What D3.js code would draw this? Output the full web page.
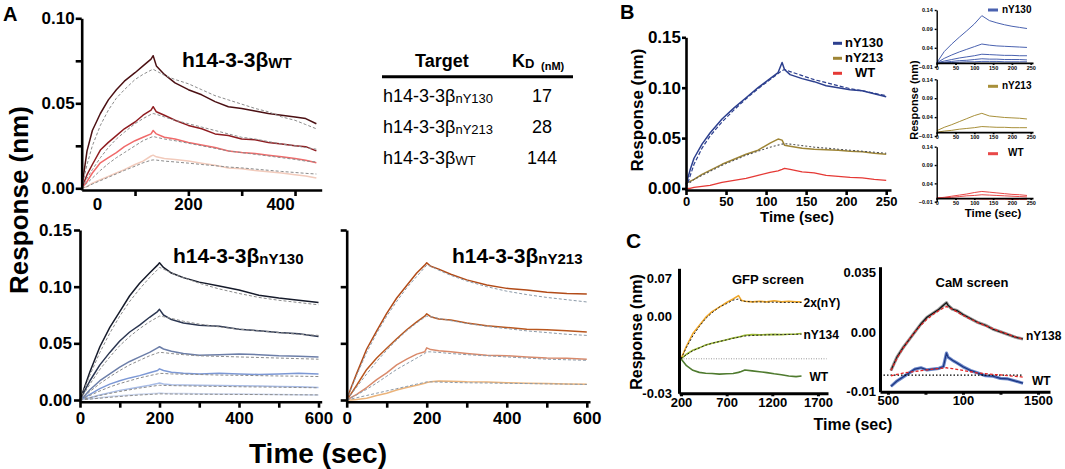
<!DOCTYPE html>
<html>
<head>
<meta charset="utf-8">
<script src="https://cdn.jsdelivr.net/npm/d3@7"></script>
<style>
  body { margin: 0; background: #fff; }
  svg { display: block; }
</style>
</head>
<body>
<script>
'use strict';

const FONT = "'Liberation Sans', Arial, Helvetica, sans-serif";

// ---------- panel A : h14-3-3b WT ----------
const tWT = [0, 10, 20, 35, 50, 65, 80, 100, 115, 130, 134, 140, 155, 175, 200, 225, 250, 275, 300, 325, 350, 375, 400, 420, 440];
const wt1 = [0, 0.022, 0.034, 0.044, 0.052, 0.058, 0.063, 0.068, 0.072, 0.076, 0.078, 0.072, 0.067, 0.062, 0.058, 0.055, 0.051, 0.048, 0.047, 0.0455, 0.044, 0.043, 0.042, 0.041, 0.038];
const wt2 = [0, 0.008, 0.014, 0.0225, 0.027, 0.031, 0.035, 0.039, 0.043, 0.046, 0.048, 0.045, 0.043, 0.040, 0.037, 0.035, 0.032, 0.031, 0.029, 0.0285, 0.027, 0.026, 0.025, 0.0245, 0.022];
const wt3 = [0, 0.004, 0.009, 0.015, 0.018, 0.021, 0.0245, 0.028, 0.030, 0.032, 0.034, 0.032, 0.030, 0.029, 0.027, 0.0255, 0.024, 0.022, 0.021, 0.0205, 0.0195, 0.0185, 0.0175, 0.0165, 0.015];
const wt4 = [0, 0.001, 0.003, 0.005, 0.007, 0.009, 0.011, 0.014, 0.016, 0.019, 0.0195, 0.0185, 0.0175, 0.017, 0.016, 0.0148, 0.0135, 0.012, 0.0115, 0.0105, 0.0098, 0.009, 0.008, 0.0072, 0.006];
const wtFit1 = [0, 0.014, 0.025, 0.037, 0.046, 0.053, 0.058, 0.064, 0.067, 0.0695, 0.070, 0.069, 0.0665, 0.064, 0.0615, 0.058, 0.0545, 0.052, 0.0495, 0.047, 0.045, 0.042, 0.040, 0.0375, 0.035];
const wtFit2 = [0, 0.006, 0.011, 0.018, 0.024, 0.029, 0.033, 0.038, 0.041, 0.0435, 0.044, 0.0435, 0.042, 0.040, 0.038, 0.036, 0.034, 0.032, 0.030, 0.029, 0.0275, 0.026, 0.025, 0.024, 0.023];
const wtFit3 = [0, 0.003, 0.006, 0.0105, 0.0145, 0.018, 0.021, 0.025, 0.028, 0.030, 0.0305, 0.030, 0.029, 0.028, 0.0265, 0.025, 0.0235, 0.022, 0.021, 0.020, 0.019, 0.018, 0.017, 0.016, 0.0155];
const wtFit4 = [0, 0.001, 0.0025, 0.0045, 0.0065, 0.0085, 0.0105, 0.013, 0.015, 0.0165, 0.0167, 0.0166, 0.016, 0.0155, 0.0148, 0.014, 0.0133, 0.0125, 0.012, 0.0113, 0.0106, 0.0099, 0.0093, 0.0088, 0.0084];
const wtColors = ["#4b1013", "#8f1c20", "#f06a6a", "#f2cbbc"];
const wtXTicks = [100, 200, 300, 400];
// the printed x labels of this panel sit off their ticks
const wtXLabelAt = [28.7, 199.4, 372];
const wtXLabels = ["0", "200", "400"];
const wtYTicks = [0, 0.025, 0.05, 0.075, 0.10];
const wtYLabels = ["0.00", "", "0.05", "", "0.10"];

// ---------- panel A : nY130 / nY213 ----------
const tNY = [0, 10, 25, 50, 75, 100, 125, 150, 175, 195, 200, 210, 230, 260, 300, 350, 400, 450, 500, 550, 600];
const ny130_1 = [0, 0.010, 0.025, 0.047, 0.064, 0.078, 0.092, 0.103, 0.112, 0.119, 0.121, 0.117, 0.112, 0.108, 0.104, 0.1005, 0.097, 0.0925, 0.090, 0.088, 0.086];
const ny130_2 = [0, 0.007, 0.017, 0.031, 0.042, 0.052, 0.060, 0.066, 0.073, 0.078, 0.080, 0.075, 0.071, 0.068, 0.066, 0.065, 0.0625, 0.061, 0.0595, 0.0585, 0.056];
const ny130_3 = [0, 0.003, 0.009, 0.017, 0.023, 0.029, 0.034, 0.038, 0.042, 0.046, 0.047, 0.045, 0.043, 0.041, 0.0395, 0.040, 0.0405, 0.040, 0.039, 0.0385, 0.038];
const ny130_4 = [0, 0.002, 0.005, 0.010, 0.014, 0.017, 0.0195, 0.0215, 0.024, 0.026, 0.0275, 0.026, 0.0245, 0.0235, 0.023, 0.0235, 0.023, 0.0225, 0.023, 0.0235, 0.023];
const ny130_5 = [0, 0.001, 0.002, 0.0045, 0.0065, 0.0085, 0.010, 0.0115, 0.013, 0.0145, 0.015, 0.0142, 0.0135, 0.0132, 0.013, 0.0128, 0.0125, 0.0123, 0.012, 0.0118, 0.011];
const ny130_6 = [0, 0.0004, 0.001, 0.002, 0.003, 0.0038, 0.0045, 0.005, 0.0056, 0.006, 0.0062, 0.006, 0.0058, 0.0057, 0.0055, 0.0053, 0.0052, 0.005, 0.0048, 0.0046, 0.0044];
const ny130Fit1 = [0, 0.009, 0.022, 0.042, 0.059, 0.074, 0.087, 0.098, 0.108, 0.115, 0.117, 0.1155, 0.112, 0.108, 0.103, 0.098, 0.094, 0.0905, 0.088, 0.086, 0.084];
const ny130Fit2 = [0, 0.0055, 0.014, 0.027, 0.038, 0.048, 0.056, 0.063, 0.069, 0.073, 0.074, 0.0735, 0.072, 0.0695, 0.067, 0.0645, 0.0625, 0.061, 0.0595, 0.058, 0.057];
const ny130Fit3 = [0, 0.0025, 0.0075, 0.0145, 0.0205, 0.026, 0.031, 0.035, 0.039, 0.0415, 0.042, 0.0418, 0.041, 0.040, 0.039, 0.0385, 0.038, 0.0375, 0.037, 0.0365, 0.036];
const ny130Fit4 = [0, 0.0015, 0.004, 0.008, 0.0115, 0.0145, 0.017, 0.0195, 0.0215, 0.023, 0.0235, 0.0234, 0.023, 0.0228, 0.0225, 0.022, 0.0218, 0.0215, 0.0212, 0.021, 0.0207];
const ny130Fit5 = [0, 0.0008, 0.002, 0.004, 0.0058, 0.0075, 0.009, 0.0105, 0.0118, 0.0128, 0.013, 0.0129, 0.0127, 0.0125, 0.0122, 0.012, 0.0117, 0.0115, 0.0113, 0.011, 0.0108];
const ny130Fit6 = [0, 0.0003, 0.0008, 0.0016, 0.0024, 0.0031, 0.0038, 0.0044, 0.0049, 0.0053, 0.0054, 0.0054, 0.0053, 0.0052, 0.0051, 0.005, 0.0049, 0.0048, 0.0047, 0.0046, 0.0045];
const ny130Colors = ["#161b2b", "#2b3651", "#6c7ea8", "#7c98d5", "#a8bce6", "#cdd8ef"];

const ny213_1 = [0, 0.010, 0.0235, 0.045, 0.061, 0.0765, 0.090, 0.101, 0.112, 0.119, 0.121, 0.118, 0.1155, 0.111, 0.106, 0.1015, 0.0985, 0.097, 0.095, 0.094, 0.0935];
const ny213_2 = [0, 0.005, 0.013, 0.027, 0.037, 0.0456, 0.054, 0.062, 0.069, 0.074, 0.076, 0.0735, 0.0715, 0.0705, 0.068, 0.0655, 0.064, 0.0625, 0.062, 0.061, 0.060];
const ny213_3 = [0, 0.002, 0.005, 0.011, 0.018, 0.024, 0.031, 0.036, 0.0405, 0.0425, 0.046, 0.0445, 0.0435, 0.0425, 0.041, 0.0395, 0.039, 0.038, 0.037, 0.0368, 0.036];
const ny213_4 = [0, 0, 0.0005, 0.0015, 0.004, 0.006, 0.0088, 0.011, 0.013, 0.0148, 0.0155, 0.016, 0.0168, 0.0165, 0.016, 0.0158, 0.0152, 0.0148, 0.0145, 0.0142, 0.014];
const ny213Fit1 = [0, 0.009, 0.022, 0.042, 0.059, 0.074, 0.087, 0.099, 0.109, 0.117, 0.119, 0.118, 0.1145, 0.110, 0.105, 0.100, 0.096, 0.093, 0.0905, 0.0885, 0.0865];
const ny213Fit2 = [0, 0.0045, 0.0115, 0.023, 0.034, 0.044, 0.053, 0.061, 0.068, 0.073, 0.074, 0.0735, 0.072, 0.070, 0.0675, 0.065, 0.063, 0.061, 0.0595, 0.058, 0.057];
const ny213Fit3 = [0, 0.0018, 0.0045, 0.0095, 0.015, 0.021, 0.027, 0.032, 0.037, 0.041, 0.0425, 0.0425, 0.042, 0.041, 0.040, 0.039, 0.038, 0.037, 0.036, 0.0355, 0.035];
const ny213Fit4 = [0, 0.0008, 0.002, 0.004, 0.006, 0.008, 0.010, 0.012, 0.014, 0.0155, 0.016, 0.016, 0.0158, 0.0155, 0.0152, 0.015, 0.0147, 0.0145, 0.0142, 0.014, 0.0137];
const ny213Colors = ["#b24b18", "#b9571f", "#d98a6b", "#ebb37a"];
const nyXTicks = [0, 100, 200, 300, 400, 500, 600];
const nyXLabels = ["0", "", "200", "", "400", "", "600"];
const nyYTicks = [0, 0.05, 0.10, 0.15];
const nyYLabels = ["0.00", "0.05", "0.10", "0.15"];

// ---------- table ----------
const tableTargets = ["nY130", "nY213", "WT"];
const tableKD = ["17", "28", "144"];

// ---------- panel B ----------
const tB = [0, 5, 10, 20, 30, 45, 60, 75, 90, 105, 115, 120, 123, 130, 145, 160, 175, 190, 205, 220, 235, 250];
const bNY130 = [0.004, 0.018, 0.030, 0.044, 0.055, 0.069, 0.080, 0.090, 0.100, 0.109, 0.115, 0.125, 0.118, 0.113, 0.109, 0.106, 0.102, 0.100, 0.098, 0.097, 0.094, 0.091];
const bNY213 = [0.005, 0.007, 0.009, 0.014, 0.018, 0.024, 0.029, 0.034, 0.038, 0.045, 0.049, 0.048, 0.043, 0.042, 0.040, 0.039, 0.0385, 0.038, 0.037, 0.0365, 0.035, 0.034];
const bWT = [0, 0, 0.001, 0.002, 0.003, 0.006, 0.008, 0.010, 0.013, 0.016, 0.0175, 0.019, 0.020, 0.019, 0.0165, 0.0155, 0.013, 0.012, 0.011, 0.0105, 0.009, 0.008];
const bNY130Fit = [0, 0.012, 0.024, 0.040, 0.052, 0.066, 0.078, 0.089, 0.099, 0.108, 0.114, 0.117, 0.118, 0.116, 0.112, 0.108, 0.105, 0.102, 0.099, 0.097, 0.0945, 0.092];
const bNY213Fit = [0.004, 0.006, 0.009, 0.013, 0.017, 0.023, 0.028, 0.033, 0.037, 0.041, 0.043, 0.044, 0.0445, 0.044, 0.0425, 0.041, 0.040, 0.039, 0.038, 0.037, 0.036, 0.035];
const bNames = ["nY130", "nY213", "WT"];
const bColors = ["#2c3f8e", "#9e8535", "#e53935"];
const bXTicks = [0, 50, 100, 150, 200, 250];
const bYTicks = [0, 0.05, 0.10, 0.15];
const bYLabels = ["0.00", "0.05", "0.10", "0.15"];

// panel B insets
const tIn = [0, 20, 40, 60, 80, 100, 120, 140, 160, 180, 200, 220, 240];
const inNY130 = [
  [0, 0.030, 0.050, 0.068, 0.085, 0.103, 0.125, 0.112, 0.106, 0.101, 0.097, 0.094, 0.091],
  [0, 0.012, 0.021, 0.029, 0.036, 0.043, 0.050, 0.047, 0.045, 0.044, 0.043, 0.042, 0.041],
  [0, 0.005, 0.009, 0.013, 0.016, 0.019, 0.023, 0.022, 0.021, 0.020, 0.020, 0.019, 0.019],
  [0, 0.002, 0.004, 0.006, 0.007, 0.009, 0.011, 0.010, 0.010, 0.009, 0.009, 0.009, 0.008],
  [0, 0.001, 0.001, 0.002, 0.003, 0.003, 0.004, 0.004, 0.004, 0.003, 0.003, 0.003, 0.003]
];
const inNY213 = [
  [0.004, 0.013, 0.020, 0.028, 0.036, 0.044, 0.050, 0.043, 0.041, 0.039, 0.038, 0.037, 0.035],
  [0, 0.003, 0.005, 0.008, 0.010, 0.012, 0.015, 0.014, 0.013, 0.013, 0.012, 0.012, 0.012]
];
const inWT = [
  [0, 0.002, 0.005, 0.008, 0.011, 0.015, 0.018, 0.016, 0.014, 0.012, 0.010, 0.009, 0.007],
  [0, 0.001, 0.002, 0.004, 0.006, 0.007, 0.009, 0.008, 0.007, 0.006, 0.005, 0.004, 0.003],
  [0, -0.001, -0.001, -0.002, -0.002, -0.002, -0.003, -0.003, -0.003, -0.003, -0.004, -0.004, -0.004]
];
const inColors = ["#4a62b0", "#a8903a", "#e84848"];
const inXTicks = [0, 50, 100, 150, 200, 250];
const inYTicks = [-0.01, 0.04, 0.09, 0.14];

// ---------- panel C : GFP screen ----------
const tGFP = [200, 260, 330, 400, 470, 540, 620, 700, 770, 830, 860, 900, 980, 1060, 1140, 1220, 1300, 1380, 1460, 1520];
const gfp2x = [0, 0.011, 0.022, 0.029, 0.036, 0.041, 0.045, 0.049, 0.052, 0.055, 0.051, 0.050, 0.0495, 0.050, 0.0495, 0.0505, 0.0495, 0.050, 0.0495, 0.0495];
const gfpNY134 = [0, 0.004, 0.0075, 0.0095, 0.012, 0.0135, 0.015, 0.0165, 0.018, 0.019, 0.0195, 0.0205, 0.021, 0.0208, 0.021, 0.0212, 0.021, 0.0213, 0.0215, 0.022];
const gfpWT = [0, -0.006, -0.010, -0.0118, -0.0125, -0.0128, -0.0133, -0.013, -0.0128, -0.0118, -0.011, -0.0098, -0.0105, -0.0113, -0.012, -0.013, -0.0138, -0.015, -0.0155, -0.015];
const gfp2xFit = [0, 0.010, 0.020, 0.028, 0.035, 0.040, 0.045, 0.048, 0.051, 0.052, 0.0505, 0.050, 0.0495, 0.0495, 0.0493, 0.0492, 0.0491, 0.049, 0.049, 0.049];
const gfpNY134Fit = [0, 0.0035, 0.007, 0.0095, 0.0118, 0.0135, 0.015, 0.0165, 0.0178, 0.0188, 0.0193, 0.0198, 0.0203, 0.0206, 0.0208, 0.021, 0.0211, 0.0212, 0.0213, 0.0214];
const gfpNames = ["2x(nY)", "nY134", "WT"];
const gfpColors = ["#efa72a", "#9cb934", "#4f7b2f"];
const gfpXTicks = [200, 700, 1200, 1700];
// printed y labels of this panel are not on a linear scale
const gfpYLabelAt = [0.07, 0.0366, -0.03];
const gfpYLabels = ["0.07", "0.00", "-0.03"];

// ---------- panel C : CaM screen ----------
const tCaM = [520, 560, 600, 640, 680, 720, 760, 800, 840, 870, 890, 900, 930, 960, 1000, 1050, 1100, 1150, 1200, 1250, 1300, 1350, 1400];
const camNY138 = [-0.002, 0.003, 0.0065, 0.0095, 0.0125, 0.0155, 0.018, 0.0195, 0.021, 0.0225, 0.0235, 0.0225, 0.021, 0.0205, 0.019, 0.0175, 0.016, 0.015, 0.0135, 0.0125, 0.0115, 0.0105, 0.0098];
const camWT = [-0.008, -0.006, -0.0045, -0.003, -0.0015, -0.001, -0.0018, -0.0015, -0.0012, -0.0005, 0.0045, 0.003, 0.0018, 0.0008, -0.0006, -0.002, -0.003, -0.004, -0.0042, -0.005, -0.0052, -0.006, -0.0068];
const camNY138Fit = [-0.002, 0.0025, 0.0063, 0.0095, 0.0125, 0.015, 0.0172, 0.019, 0.0205, 0.0215, 0.022, 0.0218, 0.021, 0.020, 0.0187, 0.0173, 0.016, 0.0148, 0.0137, 0.0126, 0.0116, 0.0106, 0.0098];
const camWTFit = [-0.004, -0.0035, -0.003, -0.0027, -0.0024, -0.0021, -0.0018, -0.0015, -0.0013, -0.0011, -0.001, -0.0011, -0.0013, -0.0016, -0.002, -0.0025, -0.003, -0.0032, -0.0035, -0.0037, -0.004, -0.0042, -0.0045];
const camBaseline = -0.00375;
const camXTicks = [500, 750, 1000, 1250, 1500];
const camXLabels = ["500", "", "100", "", "1500"];
const camYLabelAt = [0.035, 0.0125, -0.01];
const camYLabels = ["0.035", "0.00", "-0.01"];

// ---------- helpers ----------
const svg = d3.select("body").append("svg")
    .attr("width", 1065)
    .attr("height", 469);

function drawLine(g, x, y, ts, vs, color, width, dash) {
    g.append("path")
        .datum(vs)
        .attr("fill", "none")
        .attr("stroke", color)
        .attr("stroke-width", width)
        .attr("stroke-linejoin", "round")
        .attr("stroke-dasharray", dash || null)
        .attr("d", d3.line()
            .x((d, i) => x(ts[i]))
            .y(d => y(d)));
}

function styleAxis(g, fs, lw) {
    g.select(".domain").attr("stroke-width", lw);
    g.selectAll(".tick line").attr("stroke-width", lw);
    g.selectAll(".tick text")
        .attr("font-family", FONT)
        .attr("font-weight", "bold")
        .attr("font-size", fs)
        .attr("fill", "#000");
}

function label(g, x, y, str, fs, opts) {
    opts = opts || {};
    const t = g.append("text")
        .attr("x", x).attr("y", y)
        .attr("font-family", FONT)
        .attr("font-weight", opts.weight || "bold")
        .attr("font-size", fs)
        .attr("text-anchor", opts.anchor || "start")
        .text(str);
    if (opts.rotate) t.attr("transform", `rotate(-90, ${x}, ${y})`);
    if (opts.middle) t.attr("dominant-baseline", "middle");
    return t;
}

function subLabel(g, x, y, main, sub, fs, subFs, weight) {
    const t = g.append("text")
        .attr("x", x).attr("y", y)
        .attr("font-family", FONT)
        .attr("font-weight", weight || "bold")
        .attr("font-size", fs);
    t.append("tspan").text(main);
    t.append("tspan").attr("font-size", subFs).attr("dy", 1).text(sub);
    return t;
}

// ================= PANEL A =================
const gA = svg.append("g");
label(gA, 3, 21, "A", 20);

// --- WT ---
const xWT = d3.scaleLinear().domain([0, 450]).range([81.7, 321.7]);
const yWT = d3.scaleLinear().domain([-0.001, 0.10]).range([190, 18.3]);
[wt4, wt3, wt2, wt1].forEach((s, i) => drawLine(gA, xWT, yWT, tWT, s, wtColors[3 - i], 1.5));
[wtFit1, wtFit2, wtFit3, wtFit4].forEach(s => drawLine(gA, xWT, yWT, tWT, s, "#8c8c8c", 1, "3,2"));

const axWTy = gA.append("g").attr("transform", "translate(81.7,0)")
    .call(d3.axisLeft(yWT).tickValues(wtYTicks).tickFormat((d, i) => wtYLabels[i]).tickSize(6).tickSizeOuter(0).tickPadding(1));
styleAxis(axWTy, 17, 2.6);
const axWTx = gA.append("g").attr("transform", "translate(0,190)")
    .call(d3.axisBottom(xWT).tickValues(wtXTicks).tickFormat("").tickSize(6).tickSizeOuter(0));
styleAxis(axWTx, 17, 2.6);
const axWTlab = gA.append("g").attr("transform", "translate(0,190)")
    .call(d3.axisBottom(xWT).tickValues(wtXLabelAt).tickFormat((d, i) => wtXLabels[i]).tickSize(0).tickPadding(8));
axWTlab.select(".domain").remove();
styleAxis(axWTlab, 17, 0);
subLabel(gA, 182, 67, "h14-3-3β", "WT", 21, 15);

// --- nY130 ---
const xN1 = d3.scaleLinear().domain([0, 608]).range([80, 321.7]);
const yN = d3.scaleLinear().domain([-0.0015, 0.15]).range([401.7, 230]);
[ny130_6, ny130_5, ny130_4, ny130_3, ny130_2, ny130_1].forEach((s, i) =>
    drawLine(gA, xN1, yN, tNY, s, ny130Colors[5 - i], 1.5));
[ny130Fit1, ny130Fit2, ny130Fit3, ny130Fit4, ny130Fit5, ny130Fit6].forEach(s =>
    drawLine(gA, xN1, yN, tNY, s, "#8c8c8c", 1, "3,2"));
const axN1y = gA.append("g").attr("transform", "translate(80,0)")
    .call(d3.axisLeft(yN).tickValues(nyYTicks).tickFormat((d, i) => nyYLabels[i]).tickSize(6).tickSizeOuter(0).tickPadding(2));
styleAxis(axN1y, 17, 2.6);
const axN1x = gA.append("g").attr("transform", "translate(0,401.7)")
    .call(d3.axisBottom(xN1).tickValues(nyXTicks).tickFormat((d, i) => nyXLabels[i]).tickSize(6).tickSizeOuter(0).tickPadding(4));
styleAxis(axN1x, 17, 2.6);
subLabel(gA, 173, 263, "h14-3-3β", "nY130", 21, 15);

// --- nY213 ---
const xN2 = d3.scaleLinear().domain([0, 608]).range([346.7, 590]);
[ny213_4, ny213_3, ny213_2, ny213_1].forEach((s, i) =>
    drawLine(gA, xN2, yN, tNY, s, ny213Colors[3 - i], 1.5));
[ny213Fit1, ny213Fit2, ny213Fit3, ny213Fit4].forEach(s =>
    drawLine(gA, xN2, yN, tNY, s, "#8c9aa8", 1, "3,2"));
const axN2y = gA.append("g").attr("transform", "translate(346.7,0)")
    .call(d3.axisLeft(yN).tickValues(nyYTicks).tickFormat("").tickSize(6).tickSizeOuter(0));
styleAxis(axN2y, 17, 2.6);
const axN2x = gA.append("g").attr("transform", "translate(0,401.7)")
    .call(d3.axisBottom(xN2).tickValues(nyXTicks).tickFormat((d, i) => nyXLabels[i]).tickSize(6).tickSizeOuter(0).tickPadding(4));
styleAxis(axN2x, 17, 2.6);
subLabel(gA, 452, 263, "h14-3-3β", "nY213", 21, 15);

label(gA, 28, 200, "Response (nm)", 26, { anchor: "middle", rotate: true });
label(gA, 318, 463, "Time (sec)", 28, { anchor: "middle" });

// --- table ---
label(gA, 415, 67, "Target", 18);
subLabel(gA, 512, 67, "K", "D", 18, 13);
label(gA, 541, 70, "(nM)", 11);
gA.append("line").attr("x1", 382).attr("x2", 573).attr("y1", 76.7).attr("y2", 76.7)
    .attr("stroke", "#000").attr("stroke-width", 3);
tableTargets.forEach((tg, i) => {
    const yy = 102 + i * 31;
    subLabel(gA, 383, yy, "h14-3-3β", tg, 18, 13, "normal");
    label(gA, 542, yy, tableKD[i], 18, { weight: "normal", anchor: "middle" });
});

// ================= PANEL B =================
const gB = svg.append("g");
label(gB, 620, 19, "B", 20);
const xB = d3.scaleLinear().domain([0, 256]).range([686, 891]);
const yB = d3.scaleLinear().domain([-0.0015, 0.15]).range([190, 37.3]);
drawLine(gB, xB, yB, tB, bWT, bColors[2], 1.3);
drawLine(gB, xB, yB, tB, bNY213, bColors[1], 1.5);
drawLine(gB, xB, yB, tB, bNY130, bColors[0], 1.5);
drawLine(gB, xB, yB, tB, bNY130Fit, "#2c3f8e", 1.2, "4,2");
drawLine(gB, xB, yB, tB, bNY213Fit, "#555", 1.1, "2,2");
const axBy = gB.append("g").attr("transform", "translate(686,0)")
    .call(d3.axisLeft(yB).tickValues(bYTicks).tickFormat((d, i) => bYLabels[i]).tickSize(4).tickSizeOuter(0).tickPadding(1));
styleAxis(axBy, 17, 2.6);
const axBx = gB.append("g").attr("transform", "translate(0,190)")
    .call(d3.axisBottom(xB).tickValues(bXTicks).tickSize(5).tickSizeOuter(0).tickPadding(2));
styleAxis(axBx, 13, 2.6);
label(gB, 643, 110, "Response (nm)", 17, { anchor: "middle", rotate: true });
label(gB, 797, 222, "Time (sec)", 15, { anchor: "middle" });
bNames.forEach((n, i) => {
    const yy = 43.3 + i * 15;
    gB.append("rect").attr("x", 833).attr("y", yy - 1.5).attr("width", 9).attr("height", 3).attr("fill", bColors[i]);
    label(gB, i === 2 ? 855 : 845, yy, n, 13, { middle: true });
});

// insets
const xIn = d3.scaleLinear().domain([0, 256]).range([936.7, 1033]);
const insetRanges = [[66.7, 10], [136, 79.3], [201.7, 146.7]];
const insetSets = [inNY130, inNY213, inWT];
const insetNames = ["nY130", "nY213", "WT"];
insetSets.forEach((set, k) => {
    const yIn = d3.scaleLinear().domain([-0.01, 0.14]).range(insetRanges[k]);
    set.forEach(s => drawLine(gB, xIn, yIn, tIn, s, inColors[k], 1));
    const ay = gB.append("g").attr("transform", "translate(936.7,0)")
        .call(d3.axisLeft(yIn).tickValues(inYTicks).tickSize(2).tickSizeOuter(0).tickPadding(2).tickFormat(d3.format(".2f")));
    styleAxis(ay, 5.5, 1.4);
    const ax = gB.append("g").attr("transform", `translate(0,${yIn(0)})`)
        .call(d3.axisBottom(xIn).tickValues(inXTicks).tickSize(2).tickSizeOuter(0).tickPadding(2));
    styleAxis(ax, 5.5, 1.8);
    ax.selectAll(".tick text").attr("y", yIn(-0.01) - yIn(0) - 1);
    const ly = insetRanges[k][1] + (k === 0 ? 0 : 7);
    gB.append("rect").attr("x", 988).attr("y", ly - 1.5).attr("width", 10).attr("height", 3).attr("fill", inColors[k]);
    label(gB, k === 2 ? 1008 : 1002, ly, insetNames[k], 10, { middle: true });
});
label(gB, 918, 100, "Response (nm)", 11, { anchor: "middle", rotate: true });
label(gB, 993, 217, "Time (sec)", 11.5, { anchor: "middle" });

// ================= PANEL C =================
const gC = svg.append("g");
label(gC, 626, 248, "C", 21);

// GFP screen
const xG = d3.scaleLinear().domain([178, 1810]).range([679, 828]);
const yG = d3.scaleLinear().domain([-0.03, 0.0787]).range([393.3, 268.3]);
gC.append("line").attr("x1", xG(200)).attr("x2", xG(1795)).attr("y1", yG(0)).attr("y2", yG(0))
    .attr("stroke", "#999").attr("stroke-width", 1).attr("stroke-dasharray", "1,1.5");
[gfp2x, gfpNY134, gfpWT].forEach((s, i) => drawLine(gC, xG, yG, tGFP, s, gfpColors[i], 1.6));
drawLine(gC, xG, yG, tGFP, gfp2xFit, "#222", 1, "2,2");
drawLine(gC, xG, yG, tGFP, gfpNY134Fit, "#222", 1, "2,2");
const axGy = gC.append("g").attr("transform", "translate(679,0)")
    .call(d3.axisLeft(yG).tickValues(gfpYLabelAt).tickFormat((d, i) => gfpYLabels[i]).tickSize(0).tickSizeOuter(0).tickPadding(7));
styleAxis(axGy, 13, 3);
const axGx = gC.append("g").attr("transform", "translate(0,393.3)")
    .call(d3.axisBottom(xG).tickValues(gfpXTicks).tickFormat(d3.format("d")).tickSize(3).tickSizeOuter(0).tickPadding(1));
styleAxis(axGx, 13, 3);
label(gC, 768, 284, "GFP screen", 13, { anchor: "middle" });
[gfp2x, gfpNY134, gfpWT].forEach((s, i) => {
    const last = tGFP.length - 1;
    label(gC, xG(tGFP[last]) + 2 + (i === 2 ? 6 : 0), yG(s[last]) + 2, gfpNames[i], 12, { middle: true });
});
label(gC, 642, 332, "Response (nm)", 16, { anchor: "middle", rotate: true });
label(gC, 853, 430, "Time (sec)", 16, { anchor: "middle" });

// CaM screen
const xM = d3.scaleLinear().domain([447, 1580]).range([880, 1050]);
const yM = d3.scaleLinear().domain([-0.01, 0.037]).range([391.7, 266.7]);
drawLine(gC, xM, yM, tCaM, camNY138, "#9a9a9a", 3.2);
drawLine(gC, xM, yM, tCaM, camNY138, "#111", 1.2);
drawLine(gC, xM, yM, tCaM, camWT, "#6a86c8", 3.2);
drawLine(gC, xM, yM, tCaM, camWT, "#1c3580", 1.2);
gC.append("line").attr("x1", xM(447)).attr("x2", xM(1400)).attr("y1", yM(camBaseline)).attr("y2", yM(camBaseline))
    .attr("stroke", "#000").attr("stroke-width", 1.3).attr("stroke-dasharray", "1.5,2");
drawLine(gC, xM, yM, tCaM, camNY138Fit, "#e32626", 1.3, "3,2");
drawLine(gC, xM, yM, tCaM, camWTFit, "#e32626", 1.3, "3,2");
const axMy = gC.append("g").attr("transform", "translate(880,0)")
    .call(d3.axisLeft(yM).tickValues(camYLabelAt).tickFormat((d, i) => camYLabels[i]).tickSize(0).tickSizeOuter(0).tickPadding(4));
styleAxis(axMy, 13, 3);
const axMx = gC.append("g").attr("transform", "translate(0,391.7)")
    .call(d3.axisBottom(xM).tickValues(camXTicks).tickFormat((d, i) => camXLabels[i]).tickSize(3).tickSizeOuter(0).tickPadding(1));
styleAxis(axMx, 13, 3);
label(gC, 972, 287, "CaM screen", 13, { anchor: "middle" });
const lastM = tCaM.length - 1;
label(gC, xM(tCaM[lastM]) + 3, yM(camNY138[lastM]) - 2, "nY138", 12, { middle: true });
label(gC, xM(tCaM[lastM]) + 9, yM(camWT[lastM]) - 1, "WT", 12, { middle: true });
</script>
</body>
</html>
